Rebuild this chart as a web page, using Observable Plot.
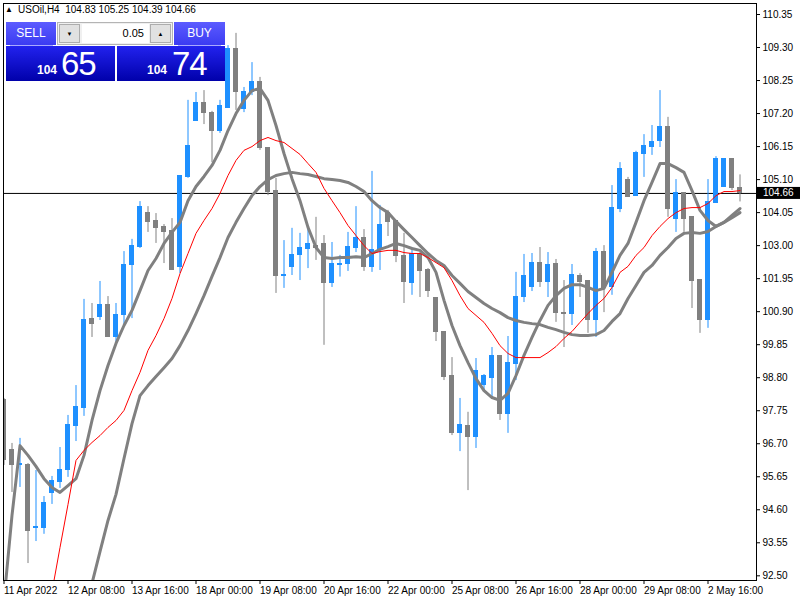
<!DOCTYPE html>
<html>
<head>
<meta charset="utf-8">
<script src="https://cdn.jsdelivr.net/npm/d3@7"></script>
<script src="https://cdn.jsdelivr.net/npm/@observablehq/plot@0.6"></script>
<style>
  html, body { margin: 0; padding: 0; background: #fff; }
  #wrap { position: relative; width: 800px; height: 600px; overflow: hidden; font-family: "Liberation Sans", Arial, sans-serif; }
  #chart svg { display: block; }
  .ov { position: absolute; white-space: nowrap; }
  #hdr { left: 5px; top: 5px; font-size: 10px; line-height: 10px; color: #000; }
  #hdr .tri { font-size: 8px; display: inline-block; width: 13px; vertical-align: 1px; }
  .btn { position: absolute; top: 22px; height: 23px; background: linear-gradient(#5c5cff, #3b3bf2); color: #fff; font-size: 12px; line-height: 23px; text-align: center; }
  .sep { position: absolute; top: 45px; height: 1px; background: #a9a9ff; }
  .big { position: absolute; top: 46px; height: 35px; background: linear-gradient(#2222ee, #0000aa); color: #fff; }
  .small { position: absolute; top: 64px; font-size: 12px; font-weight: bold; line-height: 12px; }
  .large { position: absolute; top: 47px; font-size: 33px; line-height: 33px; letter-spacing: -1px; }
  #spin { position: absolute; left: 57px; top: 22px; width: 114px; height: 21px; background: #f0f0f0; border: 1px solid #b4b4b4; }
  .arr { position: absolute; top: 1px; width: 21px; height: 19px; background: #e1e1e1; border: 1px solid #adadad; box-sizing: border-box; font-size: 6px; line-height: 18px; text-align: center; color: #000; }
  #inp { position: absolute; left: 24px; top: 1px; width: 67px; height: 19px; background: #fff; font-size: 11px; line-height: 19px; text-align: right; box-sizing: border-box; padding-right: 5px; color: #000; }
</style>
</head>
<body>
<div id="wrap">
  <div id="chart"></div>
  <div id="hdr" class="ov"></div>
  <div class="btn" style="left:6px;width:50px;">SELL</div>
  <div class="sep" style="left:10px;width:43px;"></div>
  <div id="spin"><div class="arr" style="left:1px;">&#9660;</div><div id="inp"></div><div class="arr" style="left:92px;">&#9650;</div></div>
  <div class="btn" style="left:174px;width:51px;">BUY</div>
  <div class="sep" style="left:178px;width:43px;"></div>
  <div class="big" style="left:6px;width:109px;"></div>
  <div class="big" style="left:117px;width:108px;"></div>
  <div id="bidSmall" class="ov small" style="left:37px;color:#fff;"></div>
  <div id="bidLarge" class="ov large" style="left:61px;color:#fff;"></div>
  <div id="askSmall" class="ov small" style="left:147px;color:#fff;"></div>
  <div id="askLarge" class="ov large" style="left:172px;color:#fff;"></div>
</div>
<script>
// ---- data (USOil, H4) ----
const symbol = "USOil,H4";
const lotSize = "0.05";
const bidPrice = "104.65";
const askPrice = "104.74";

const opens = [
  98.08, 96.49, 96.01, 96.01, 94.01, 94.01, 95.12, 95.47, 95.85, 97.28,
  97.85, 100.68, 100.72, 101.10, 100.11, 100.78, 102.37, 102.97, 104.05, 103.77,
  103.58, 103.45, 102.31, 105.17, 106.95, 107.55, 107.23, 106.63, 107.39, 109.24,
  107.36, 107.87, 108.19, 106.09, 104.75, 102.05, 102.31, 102.69, 102.88, 103.00,
  103.04, 101.80, 102.40, 102.43, 102.94, 103.23, 102.31, 102.85, 104.05, 103.77,
  102.66, 101.80, 102.72, 102.21, 101.35, 100.24, 98.87, 97.03, 97.28, 96.90,
  98.58, 98.78, 99.48, 97.66, 99.25, 101.38, 101.70, 102.46, 101.83, 102.43,
  100.87, 100.84, 102.05, 101.86, 100.62, 102.81, 101.67, 104.18, 105.10, 104.59,
  105.90, 106.15, 106.34, 106.76, 103.86, 104.66, 103.90, 101.92, 100.62, 104.37,
  104.85, 105.74, 104.83
];
const highs = [
  98.14, 96.71, 96.87, 96.07, 95.85, 95.02, 95.66, 96.58, 97.60, 98.55,
  101.29, 101.16, 101.86, 101.38, 101.16, 102.81, 103.20, 104.40, 104.24, 104.02,
  103.67, 103.86, 105.23, 107.62, 107.87, 107.93, 107.27, 107.62, 109.36, 109.75,
  108.03, 108.82, 108.35, 106.12, 105.14, 103.16, 103.55, 103.39, 103.58, 103.90,
  103.32, 103.10, 102.69, 103.42, 104.24, 103.51, 105.36, 104.28, 104.12, 103.80,
  103.39, 102.94, 102.78, 102.27, 101.35, 100.24, 99.44, 98.14, 97.70, 99.41,
  98.90, 99.76, 99.48, 100.11, 102.15, 102.72, 102.75, 102.94, 102.78, 102.56,
  101.89, 102.40, 102.11, 101.89, 102.91, 103.00, 104.91, 105.64, 105.17, 106.00,
  106.53, 106.82, 107.93, 107.08, 105.10, 104.66, 103.90, 101.92, 105.10, 105.83,
  105.74, 105.74, 105.25
];
const lows = [
  96.01, 95.15, 95.31, 92.89, 93.59, 93.82, 94.77, 95.28, 95.63, 96.77,
  97.57, 100.08, 100.62, 100.08, 99.83, 100.40, 100.68, 102.91, 103.42, 103.07,
  102.43, 102.21, 102.11, 105.14, 106.95, 106.85, 105.64, 106.57, 107.39, 107.30,
  107.23, 107.77, 106.03, 104.59, 101.48, 101.64, 102.05, 101.89, 102.27, 102.53,
  99.83, 101.67, 102.00, 102.18, 102.78, 102.18, 102.15, 102.21, 103.29, 102.46,
  101.16, 101.42, 101.35, 101.35, 99.95, 98.71, 96.96, 96.45, 95.21, 96.55,
  98.39, 98.17, 97.44, 97.03, 98.71, 101.19, 101.54, 101.67, 101.35, 100.56,
  99.76, 100.46, 101.35, 100.21, 100.08, 100.87, 101.42, 104.05, 104.56, 104.59,
  105.17, 105.87, 106.12, 103.90, 103.42, 103.42, 101.00, 100.21, 100.37, 104.37,
  104.85, 104.75, 104.39
];
const closes = [
  96.17, 96.01, 96.04, 93.94, 94.04, 94.83, 95.53, 95.88, 97.31, 97.88,
  100.65, 100.52, 101.10, 100.11, 100.78, 102.37, 103.00, 104.24, 103.74, 103.55,
  103.42, 102.24, 105.20, 106.18, 107.55, 107.23, 106.63, 107.43, 109.24, 107.87,
  107.90, 108.19, 106.09, 104.69, 102.05, 102.08, 102.69, 102.91, 103.04, 102.94,
  101.80, 102.43, 102.43, 102.97, 103.23, 102.31, 102.85, 103.67, 103.74, 102.66,
  101.83, 102.72, 102.18, 101.57, 100.24, 98.81, 97.03, 97.31, 96.90, 99.00,
  98.84, 99.48, 97.66, 99.28, 101.38, 102.02, 102.46, 101.83, 102.40, 100.87,
  100.84, 102.08, 101.83, 100.62, 102.81, 101.64, 104.21, 105.45, 104.56, 105.93,
  106.18, 106.31, 106.76, 104.18, 104.66, 103.86, 101.86, 100.62, 104.40, 105.77,
  105.74, 104.82, 104.66
];
// moving averages (one value per bar)
const maFast = [
  91.72, 94.42, 96.64, 96.33, 95.98, 95.59, 95.31, 95.15, 95.37, 95.59,
  96.33, 97.44, 98.39, 99.19, 99.89, 100.46, 100.94, 101.57, 102.21, 102.59,
  103.07, 103.42, 103.74, 104.43, 104.88, 105.20, 105.55, 106.03, 106.66, 107.20,
  107.62, 107.93, 108.00, 107.62, 106.82, 105.93, 105.13, 104.43, 103.58, 102.94,
  102.62, 102.59, 102.62, 102.62, 102.65, 102.62, 102.75, 102.88, 102.97, 103.07,
  103.00, 102.91, 102.85, 102.62, 102.15, 101.26, 100.46, 99.82, 99.28, 98.77,
  98.39, 98.17, 98.08, 98.30, 98.87, 99.51, 100.08, 100.62, 101.10, 101.41,
  101.64, 101.76, 101.76, 101.67, 101.57, 101.64, 102.15, 102.69, 103.07, 103.74,
  104.43, 105.01, 105.61, 105.61, 105.48, 105.33, 104.75, 104.12, 103.80, 103.61,
  103.74, 103.89, 104.05
];
const maMid = [
  83.67, 85.07, 86.47, 87.84, 89.23, 90.60, 92.00, 93.40, 94.77, 96.17,
  96.49, 96.74, 96.96, 97.22, 97.44, 97.76, 98.39, 98.97, 99.67, 100.14,
  100.68, 101.32, 102.11, 102.75, 103.39, 103.80, 104.18, 104.66, 105.23, 105.71,
  106.03, 106.15, 106.34, 106.44, 106.34, 106.28, 106.09, 105.90, 105.61, 105.33,
  104.82, 104.43, 104.05, 103.64, 103.32, 103.00, 102.75, 102.81, 102.85, 102.85,
  102.78, 102.75, 102.75, 102.62, 102.46, 102.30, 101.89, 101.41, 101.00, 100.78,
  100.56, 100.21, 99.82, 99.57, 99.44, 99.44, 99.44, 99.44, 99.60, 99.79,
  100.05, 100.27, 100.56, 100.84, 101.10, 101.32, 101.67, 102.15, 102.34, 102.69,
  102.94, 103.32, 103.61, 103.86, 104.05, 104.18, 104.21, 104.21, 104.34, 104.59,
  104.72, 104.72, 104.75
];
const maSlow = [
  80.43, 81.54, 82.65, 83.77, 84.88, 85.99, 87.10, 88.15, 89.17, 90.19,
  91.24, 92.26, 93.27, 94.26, 95.09, 96.23, 97.34, 98.23, 98.55, 98.84,
  99.12, 99.41, 99.82, 100.30, 100.84, 101.41, 102.02, 102.62, 103.26, 103.74,
  104.18, 104.59, 104.88, 105.10, 105.23, 105.29, 105.33, 105.29, 105.26, 105.20,
  105.13, 105.10, 105.07, 105.01, 104.88, 104.72, 104.43, 104.21, 104.05, 103.77,
  103.51, 103.26, 103.00, 102.75, 102.53, 102.37, 102.05, 101.80, 101.54, 101.35,
  101.16, 101.00, 100.87, 100.71, 100.62, 100.56, 100.52, 100.49, 100.40, 100.33,
  100.24, 100.17, 100.14, 100.14, 100.17, 100.30, 100.59, 100.84, 101.32, 101.73,
  102.15, 102.37, 102.69, 102.94, 103.23, 103.39, 103.42, 103.39, 103.45, 103.61,
  103.74, 103.96, 104.18
];
const tickBars = [0, 8, 16, 24, 32, 40, 48, 56, 64, 72, 80, 88];
const tickLabels = ["11 Apr 2022", "12 Apr 08:00", "13 Apr 16:00", "18 Apr 00:00", "19 Apr 08:00", "20 Apr 16:00",
                    "22 Apr 00:00", "25 Apr 08:00", "26 Apr 16:00", "28 Apr 00:00", "29 Apr 08:00", "2 May 16:00"];
const priceTicks = [92.50, 93.55, 94.60, 95.65, 96.70, 97.75, 98.80, 99.85, 100.90, 101.95,
                    103.00, 104.05, 105.10, 106.15, 107.20, 108.25, 109.30, 110.35];

// ---- build ----
const BLUE = "#1e90ff", GREY = "#808080";
const bars = opens.map((o, i) => ({i, o, h: highs[i], l: lows[i], c: closes[i]}));
const series = arr => arr.map((v, i) => ({i, v}));
const last = bars[bars.length - 1];
const colorOf = d => (d.c >= d.o ? BLUE : GREY);
const labelOf = new Map(tickBars.map((b, k) => [b, tickLabels[k]]));

const chart = Plot.plot({
  width: 800,
  height: 600,
  marginLeft: 3,
  marginRight: 44,
  marginTop: 3,
  marginBottom: 20,
  style: {fontFamily: '"Liberation Sans", Arial, sans-serif', fontSize: "10px", background: "#fff", color: "#000", overflow: "visible"},
  x: {type: "linear", domain: [-0.0625, 94.0625], label: null},
  y: {type: "linear", domain: [92.351, 110.70], label: null},
  marks: [
    Plot.ruleY([last.c], {stroke: "#000", strokeWidth: 1}),
    Plot.ruleX(bars, {x: "i", y1: "l", y2: "h", stroke: colorOf, strokeWidth: 1, clip: true}),
    Plot.rect(bars, {
      x1: d => d.i - 0.3125, x2: d => d.i + 0.3125,
      y1: d => Math.min(d.o, d.c), y2: d => Math.max(d.o, d.c),
      fill: colorOf, insetTop: -0.5, insetBottom: -0.5, shapeRendering: "crispEdges", clip: true
    }),
    Plot.line(series(maSlow), {x: "i", y: "v", stroke: GREY, strokeWidth: 3, clip: true}),
    Plot.line(series(maFast), {x: "i", y: "v", stroke: GREY, strokeWidth: 3, clip: true}),
    Plot.line(series(maMid), {x: "i", y: "v", stroke: "#ff0000", strokeWidth: 1, clip: true}),
    Plot.frame({stroke: "#000"}),
    Plot.axisY({anchor: "right", label: null, ticks: priceTicks, tickFormat: d => d.toFixed(2), tickSize: 3, tickPadding: 3, fill: "#000"}),
    Plot.axisX({anchor: "bottom", label: null, ticks: tickBars, tickFormat: d => labelOf.get(d), textAnchor: "start", tickSize: 4, tickPadding: 2, fill: "#000"})
  ]
});
document.getElementById("chart").appendChild(chart);

// current price label on the right axis
const ys = chart.scale("y"), xs = chart.scale("x");
const yy = ys.apply(last.c);
const xr = xs.range[1];
const svg = d3.select(chart);
const g = svg.append("g").attr("text-anchor", "start");
g.append("rect").attr("x", xr + 1).attr("y", yy - 6).attr("width", 800 - xr - 1).attr("height", 12).attr("fill", "#000");
g.append("text").attr("x", xr + 7).attr("y", yy).attr("dy", "0.35em").attr("fill", "#fff")
  .attr("text-anchor", "start").attr("font-size", 10).text(last.c.toFixed(2));

// header + trade panel texts
document.getElementById("hdr").innerHTML =
  '<span class="tri">&#9650;</span>' + symbol + '&nbsp; ' +
  [last.o, last.h, last.l, last.c].map(v => v.toFixed(2)).join(" ");
document.getElementById("inp").textContent = lotSize;
document.getElementById("bidSmall").textContent = bidPrice.slice(0, 3);
document.getElementById("bidLarge").textContent = bidPrice.slice(4);
document.getElementById("askSmall").textContent = askPrice.slice(0, 3);
document.getElementById("askLarge").textContent = askPrice.slice(4);
</script>
</body>
</html>
